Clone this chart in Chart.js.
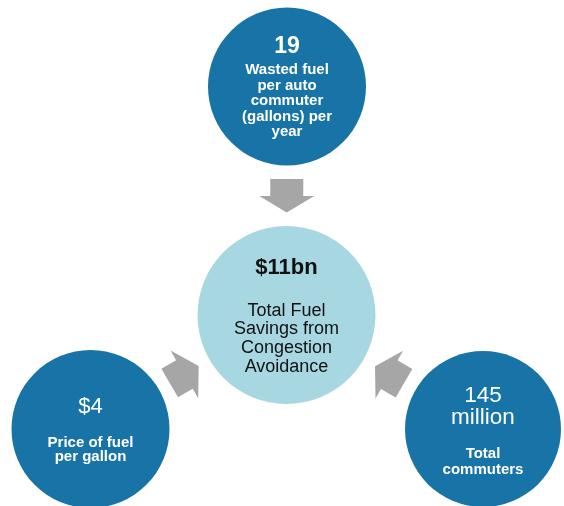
<!DOCTYPE html>
<html>
<head>
<meta charset="utf-8">
<script src="https://cdn.jsdelivr.net/npm/chart.js@4/dist/chart.umd.min.js"></script>
<style>
html,body{margin:0;padding:0;background:#fff;}
#wrap{width:564px;height:506px;}
</style>
</head>
<body>
<div id="wrap"><canvas id="c" width="564" height="506"></canvas></div>
<script>
// ---- data ----
const nodeValues = ['19', '$11bn', '$4', '145 million'];
const valueLines = [['19'], ['$11bn'], ['$4'], ['145', 'million']];
const labelLines = [
  ['Wasted fuel', 'per auto', 'commuter', '(gallons) per', 'year'],
  ['Total Fuel', 'Savings from', 'Congestion', 'Avoidance'],
  ['Price of fuel', 'per gallon'],
  ['Total', 'commuters']
];
const flows = [[0, 1], [2, 1], [3, 1]]; // source -> target

// ---- layout (positions / sizes / styles) ----
const nodeX = [287, 286.5, 90.5, 483];
const nodeY = [86.5, 315, 429, 429];
const nodeR = [79, 89, 79, 78];
const nodeColor = ['#1874a6', '#a7d7e1', '#1874a6', '#1874a6'];
const textColor = ['#ffffff', '#111111', '#ffffff', '#ffffff'];
const valueFont = [
  'bold 23px "Liberation Sans", Arial, sans-serif',
  'bold 22px "Liberation Sans", Arial, sans-serif',
  '22px "Liberation Sans", Arial, sans-serif',
  '22.5px "Liberation Sans", Arial, sans-serif'
];
const labelFont = [
  'bold 15px "Liberation Sans", Arial, sans-serif',
  '18px "Liberation Sans", Arial, sans-serif',
  'bold 15px "Liberation Sans", Arial, sans-serif',
  'bold 15px "Liberation Sans", Arial, sans-serif'
];
// baseline offsets from circle centre
const valueOffsets = [[-33.5], [-41], [-16], [-27.5, -5]];
const labelOffsets = [[-12.5, 3, 18.5, 34, 49.5], [0.7, 19.4, 38, 56.7], [17.7, 31.7], [29.3, 44.6]];
const arrowColor = '#a6a6a6';
const arrowDims = {shaftW: 33, headW: 55, shaftL: 17, headL: 16.5};

const arrowPlugin = {
  id: 'flowArrows',
  beforeDatasetsDraw(chart) {
    const ctx = chart.ctx, xs = chart.scales.x, ys = chart.scales.y;
    ctx.save();
    ctx.fillStyle = arrowColor;
    flows.forEach(([s, t]) => {
      const sx = xs.getPixelForValue(nodeX[s]), sy = ys.getPixelForValue(nodeY[s]);
      const tx = xs.getPixelForValue(nodeX[t]), ty = ys.getPixelForValue(nodeY[t]);
      const dx = tx - sx, dy = ty - sy, dist = Math.hypot(dx, dy);
      const ux = dx / dist, uy = dy / dist, nx = -uy, ny = ux;
      const mid = (nodeR[s] + dist - nodeR[t]) / 2;
      const total = arrowDims.shaftL + arrowDims.headL;
      const cx = sx + ux * mid, cy = sy + uy * mid;
      const tailX = cx - ux * total / 2, tailY = cy - uy * total / 2;
      const baseX = tailX + ux * arrowDims.shaftL, baseY = tailY + uy * arrowDims.shaftL;
      const tipX = tailX + ux * total, tipY = tailY + uy * total;
      const sw = arrowDims.shaftW / 2, hw = arrowDims.headW / 2;
      ctx.beginPath();
      ctx.moveTo(tailX + nx * sw, tailY + ny * sw);
      ctx.lineTo(baseX + nx * sw, baseY + ny * sw);
      ctx.lineTo(baseX + nx * hw, baseY + ny * hw);
      ctx.lineTo(tipX, tipY);
      ctx.lineTo(baseX - nx * hw, baseY - ny * hw);
      ctx.lineTo(baseX - nx * sw, baseY - ny * sw);
      ctx.lineTo(tailX - nx * sw, tailY - ny * sw);
      ctx.closePath();
      ctx.fill();
    });
    ctx.restore();
  }
};

const textPlugin = {
  id: 'nodeText',
  afterDatasetsDraw(chart) {
    const ctx = chart.ctx, xs = chart.scales.x, ys = chart.scales.y;
    ctx.save();
    ctx.textAlign = 'center';
    ctx.textBaseline = 'alphabetic';
    valueLines.forEach((lines, i) => {
      const px = xs.getPixelForValue(nodeX[i]), py = ys.getPixelForValue(nodeY[i]);
      ctx.fillStyle = textColor[i];
      ctx.font = valueFont[i];
      lines.forEach((ln, k) => ctx.fillText(ln, px, py + valueOffsets[i][k]));
      ctx.font = labelFont[i];
      labelLines[i].forEach((ln, k) => ctx.fillText(ln, px, py + labelOffsets[i][k]));
    });
    ctx.restore();
  }
};

new Chart(document.getElementById('c'), {
  type: 'bubble',
  data: {
    datasets: [{
      label: 'nodes',
      data: nodeValues.map((v, i) => ({x: nodeX[i], y: nodeY[i], r: nodeR[i], v})),
      backgroundColor: nodeColor,
      hoverBackgroundColor: nodeColor,
      borderWidth: 0,
      hoverBorderWidth: 0,
      clip: false
    }]
  },
  options: {
    responsive: false,
    animation: false,
    devicePixelRatio: 1,
    layout: {padding: 0, autoPadding: false},
    events: [],
    plugins: {legend: {display: false}, tooltip: {enabled: false}},
    scales: {
      x: {type: 'linear', min: 0, max: 564, display: false},
      y: {type: 'linear', min: 0, max: 506, reverse: true, display: false}
    }
  },
  plugins: [arrowPlugin, textPlugin]
});
</script>
</body>
</html>
